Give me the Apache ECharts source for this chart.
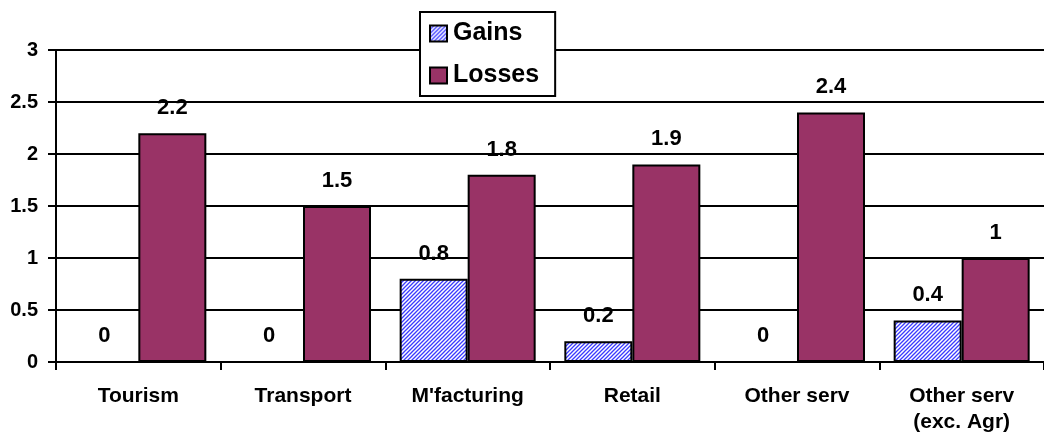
<!DOCTYPE html>
<html><head><meta charset="utf-8">
<script src="https://cdn.jsdelivr.net/npm/echarts@6/dist/echarts.min.js"></script>
<style>html,body{margin:0;padding:0;background:#fff}#c{width:1044px;height:435px}</style>
</head><body><div id="c"></div>
<script>
const categories = ['Tourism', 'Transport', "M'facturing", 'Retail', 'Other serv', 'Other serv\n(exc. Agr)'];
const gains = [0, 0, 0.8, 0.2, 0, 0.4];
const losses = [2.2, 1.5, 1.8, 1.9, 2.4, 1];
const yTicks = { min: 0, max: 3, interval: 0.5 };

function hatch() {
  const c = document.createElement('canvas');
  c.width = 4; c.height = 4;
  const g = c.getContext('2d');
  g.fillStyle = '#ffffff'; g.fillRect(0, 0, 4, 4);
  g.strokeStyle = '#3a3aff'; g.lineWidth = 1.3;
  g.beginPath();
  g.moveTo(0, 4); g.lineTo(4, 0);
  g.moveTo(-2, 2); g.lineTo(2, -2);
  g.moveTo(2, 6); g.lineTo(6, 2);
  g.stroke();
  return c;
}
const pat = { image: hatch(), repeat: 'repeat' };
const font = 'Liberation Sans, Arial, sans-serif';
const chart = echarts.init(document.getElementById('c'));
const lbl = { show: true, position: 'top', distance: 14, color: '#000', fontWeight: 'bold', fontSize: 22, fontFamily: font };
chart.setOption({
  animation: false,
  textStyle: { fontFamily: font },
  grid: { left: 56, right: -8, top: 50, bottom: 72, containLabel: false },
  legend: {
    orient: 'vertical', left: 420, top: 12,
    backgroundColor: '#fff', borderColor: '#000', borderWidth: 2,
    padding: [9, 16, 8, 9], itemGap: 17, itemWidth: 17, itemHeight: 16,
    textStyle: { fontFamily: font, fontWeight: 'bold', fontSize: 25, color: '#000', padding: [0, 0, 0, 1] },
    data: [{ name: 'Gains', icon: 'rect' }, { name: 'Losses', icon: 'rect' }]
  },
  xAxis: {
    type: 'category', data: categories,
    axisLine: { lineStyle: { color: '#000', width: 2 } },
    axisTick: { show: true, length: 8, lineStyle: { color: '#000', width: 2 } },
    axisLabel: { color: '#000', fontWeight: 'bold', fontSize: 21, margin: 21, lineHeight: 26 }
  },
  yAxis: {
    type: 'value', min: yTicks.min, max: yTicks.max, interval: yTicks.interval,
    axisLine: { show: true, lineStyle: { color: '#000', width: 2 } },
    axisTick: { show: true, length: 8, lineStyle: { color: '#000', width: 2 } },
    splitLine: { lineStyle: { color: '#000', width: 2 } },
    axisLabel: { color: '#000', fontWeight: 'bold', fontSize: 20, margin: 18 }
  },
  series: [
    {
      name: 'Gains', type: 'bar', data: gains, barWidth: 68, barGap: '0%',
      itemStyle: { color: pat, borderColor: '#000', borderWidth: 2 },
      label: lbl
    },
    {
      name: 'Losses', type: 'bar', data: losses, barWidth: 68, barGap: '0%',
      itemStyle: { color: '#993366', borderColor: '#000', borderWidth: 2 },
      label: lbl
    }
  ]
});
</script></body></html>
